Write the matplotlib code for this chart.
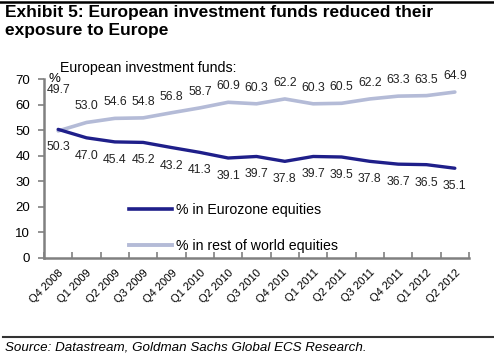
import numpy as np
import matplotlib
matplotlib.use("Agg")
import matplotlib.pyplot as plt
from matplotlib.lines import Line2D

plt.rcParams['font.family'] = ['Liberation Sans', 'DejaVu Sans']

quarters = ["Q4 2008", "Q1 2009", "Q2 2009", "Q3 2009", "Q4 2009", "Q1 2010",
            "Q2 2010", "Q3 2010", "Q4 2010", "Q1 2011", "Q2 2011", "Q3 2011",
            "Q4 2011", "Q1 2012", "Q2 2012"]
eurozone = [50.3, 47.0, 45.4, 45.2, 43.2, 41.3, 39.1, 39.7, 37.8, 39.7, 39.5,
            37.8, 36.7, 36.5, 35.1]
rest_world = [49.7, 53.0, 54.6, 54.8, 56.8, 58.7, 60.9, 60.3, 62.2, 60.3, 60.5,
              62.2, 63.3, 63.5, 64.9]

dark = "#1f1f8a"
light = "#b4bbd7"
W, H = 494, 362
fig = plt.figure(figsize=(W / 100, H / 100), dpi=100)

def px(x0, y0, w, h):
    return [x0 / W, 1 - (y0 + h) / H, w / W, h / H]

ax = fig.add_axes(px(44, 79, 425, 179))
x = np.arange(len(quarters))
ax.plot(x, rest_world, color=light, lw=2.6, solid_capstyle='round')
ax.plot(x, eurozone, color=dark, lw=2.4, solid_capstyle='round')

for i, v in enumerate(rest_world):
    off = 41 if i == 0 else 16
    ax.annotate(f"{v:.1f}", (i, v), xytext=(0, off), textcoords='offset pixels',
                ha='center', va='center', fontsize=8.8, color='#222222')
for i, v in enumerate(eurozone):
    ax.annotate(f"{v:.1f}", (i, v), xytext=(0, -18), textcoords='offset pixels',
                ha='center', va='center', fontsize=8.8, color='#222222')

ax.set_xlim(-0.5, len(quarters) - 0.5)
ax.set_ylim(0, 70)
ax.set_yticks(range(0, 71, 10))
ax.set_xticks(np.arange(-0.5, len(quarters), 1))
ax.set_xticklabels([])
ax.set_xticks(x, minor=True)
ax.set_xticklabels(quarters, minor=True, rotation=45, ha='right', va='top',
                   fontsize=8, rotation_mode='anchor')
ax.tick_params(axis='x', which='minor', length=0, pad=7)
ax.tick_params(axis='x', which='major', direction='in', length=4, width=1.2,
               color='#808080')
ax.tick_params(axis='y', direction='out', length=4, width=1.2, color='#808080',
               labelsize=9.5, pad=6)
for s in ['top', 'right']:
    ax.spines[s].set_visible(False)
for s in ['left', 'bottom']:
    ax.spines[s].set_color('#808080')
    ax.spines[s].set_linewidth(1.8)
ax.patch.set_alpha(0)

ax.text(0.01, 1.0, "%", transform=ax.transAxes, fontsize=9.5, va='center', ha='left')
fig.text(60 / W, 1 - 68 / H, "European investment funds:", fontsize=10.2, va='center')

handles = [Line2D([], [], color=dark, lw=2.6), Line2D([], [], color=light, lw=2.8)]
fig.legend(handles, ["% in Eurozone equities", "% in rest of world equities"],
           loc='upper left', bbox_to_anchor=(129 / W, 1 - 203 / H), frameon=False,
           fontsize=10.2, handlelength=3.0, handletextpad=0.3, labelspacing=1.55,
           borderpad=0, borderaxespad=0)

fig.text(5 / W, 1 - 12 / H, "Exhibit 5: European investment funds reduced their",
         fontsize=12.5, fontweight='bold', va='center', ha='left')
fig.text(5 / W, 1 - 30 / H, "exposure to Europe",
         fontsize=12.5, fontweight='bold', va='center', ha='left')
fig.add_artist(Line2D([0, 1], [1 - 2 / H, 1 - 2 / H], color='black', lw=1.8))
fig.add_artist(Line2D([3 / W, 1], [1 - 337 / H, 1 - 337 / H], color='#333333', lw=1.5))
fig.text(5 / W, 1 - 347 / H, "Source: Datastream, Goldman Sachs Global ECS Research.",
         fontsize=9.6, style='italic', va='center', ha='left')

fig.savefig("out.png", dpi=100)
